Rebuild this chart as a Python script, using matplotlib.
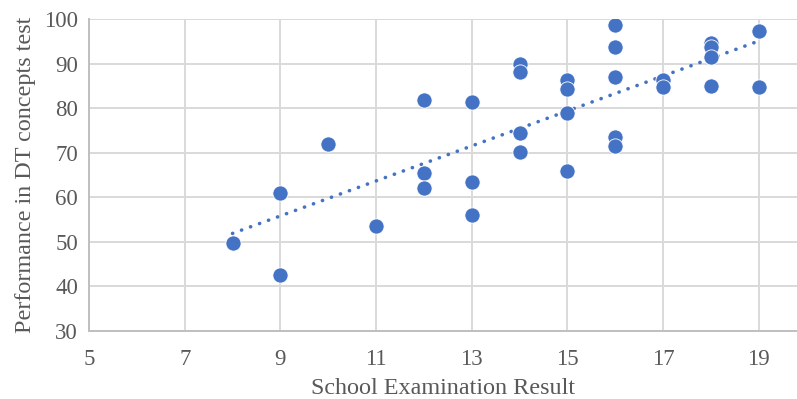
import numpy as np
import matplotlib.pyplot as plt

# school exam result vs DT concepts test score
exam = [8, 9, 9, 10, 11, 12, 12, 12, 13, 13, 13, 14, 14, 14, 14,
        15, 15, 15, 15, 16, 16, 16, 16, 16, 17, 17, 18, 18, 18, 18, 19, 19]
perf = [49.7, 60.9, 42.6, 72.0, 53.6, 81.8, 65.4, 62.1, 81.4, 63.4, 56.0,
        90.0, 88.0, 74.5, 70.1, 86.3, 84.2, 78.8, 66.0, 98.7, 93.8, 86.9,
        73.5, 71.5, 86.3, 84.7, 94.6, 93.8, 91.5, 85.0, 97.3, 84.7]
xticks = [5, 7, 9, 11, 13, 15, 17, 19]
yticks = [30, 40, 50, 60, 70, 80, 90, 100]

plt.rcParams['font.family'] = ['Liberation Serif', 'DejaVu Serif']
blue = '#4472C4'

fig = plt.figure(figsize=(7.97, 3.99), dpi=100)
ax = fig.add_axes([0.1117, 0.1704, 0.8883, 0.7820])

ax.scatter(exam, perf, s=120, color=blue, edgecolor='white', linewidth=0.6, zorder=3)

# linear trendline
k, b = np.polyfit(exam, perf, 1)
xs = np.array([min(exam), max(exam)])
ax.plot(xs, k * xs + b, color=blue, linestyle=(0, (0.05, 2.6)), linewidth=2.6,
        dash_capstyle='round', zorder=2)

ax.set_xlim(5, 19.8)
ax.set_ylim(30, 100)
ax.set_xticks(xticks)
ax.set_yticks(yticks)
ax.grid(True, color='#d9d9d9', linewidth=1.4)
ax.set_axisbelow(True)
ax.tick_params(length=0, labelsize=16.5, colors='#595959')
ax.tick_params(axis='x', pad=13)
ax.tick_params(axis='y', pad=8)
for s in ['top', 'right']:
    ax.spines[s].set_visible(False)
for s in ['left', 'bottom']:
    ax.spines[s].set_color('#bfbfbf')
    ax.spines[s].set_linewidth(1.4)

ax.set_xlabel('School Examination Result', fontsize=17.4, color='#595959', labelpad=6)
ax.set_ylabel('Performance in DT concepts test', fontsize=17.4, color='#595959', labelpad=6)

fig.savefig('out.png', dpi=100)
